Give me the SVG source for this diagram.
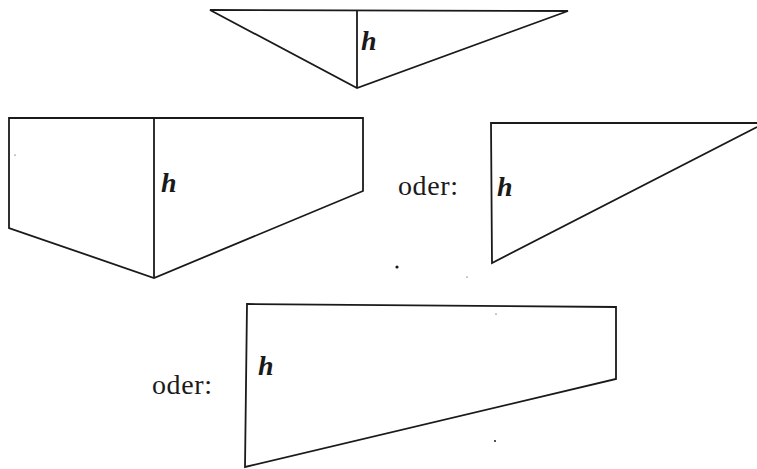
<svg xmlns="http://www.w3.org/2000/svg" width="757" height="469" viewBox="0 0 757 469">
<style>
.s{fill:none;stroke:#1a1a1a;stroke-width:1.8;stroke-linejoin:miter}
.h{font-family:"Liberation Serif",serif;font-style:italic;font-weight:bold;font-size:28px;fill:#1a1a1a}
.t{font-family:"Liberation Serif",serif;font-size:28px;fill:#1a1a1a}
.d{fill:#1a1a1a}
</style>
<rect width="757" height="469" fill="#fff"/>
<g id="triangle-top">
<polygon class="s" points="210,10 568,11 357,88"/>
<line class="s" x1="357" y1="10.5" x2="357" y2="88"/>
<text class="h" x="361" y="50">h</text>
</g>
<g id="pentagon">
<polygon class="s" points="9,118 363,118 363,191 154,278 9,228"/>
<line class="s" x1="154" y1="118" x2="154" y2="278"/>
<text class="h" x="161" y="192">h</text>
</g>
<g id="label-oder-1">
<text class="t" x="398" y="195" textLength="60">oder:</text>
</g>
<g id="right-triangle">
<polyline class="s" points="757,123 491,123 492,263 757,127"/>
<text class="h" x="497" y="196">h</text>
</g>
<g id="label-oder-2">
<text class="t" x="152" y="394" textLength="60">oder:</text>
</g>
<g id="quadrilateral">
<polygon class="s" points="247,304 616,307 616,379 245,467"/>
<text class="h" x="258" y="375">h</text>
</g>
<g id="specks">
<circle class="d" cx="397" cy="267" r="1.6"/>
<circle class="d" cx="467" cy="277" r="0.6"/>
<circle class="d" cx="495" cy="441" r="1"/>
<circle class="d" cx="496" cy="314" r="0.6"/>
<circle class="d" cx="15" cy="155" r="0.6"/>
</g>
</svg>
